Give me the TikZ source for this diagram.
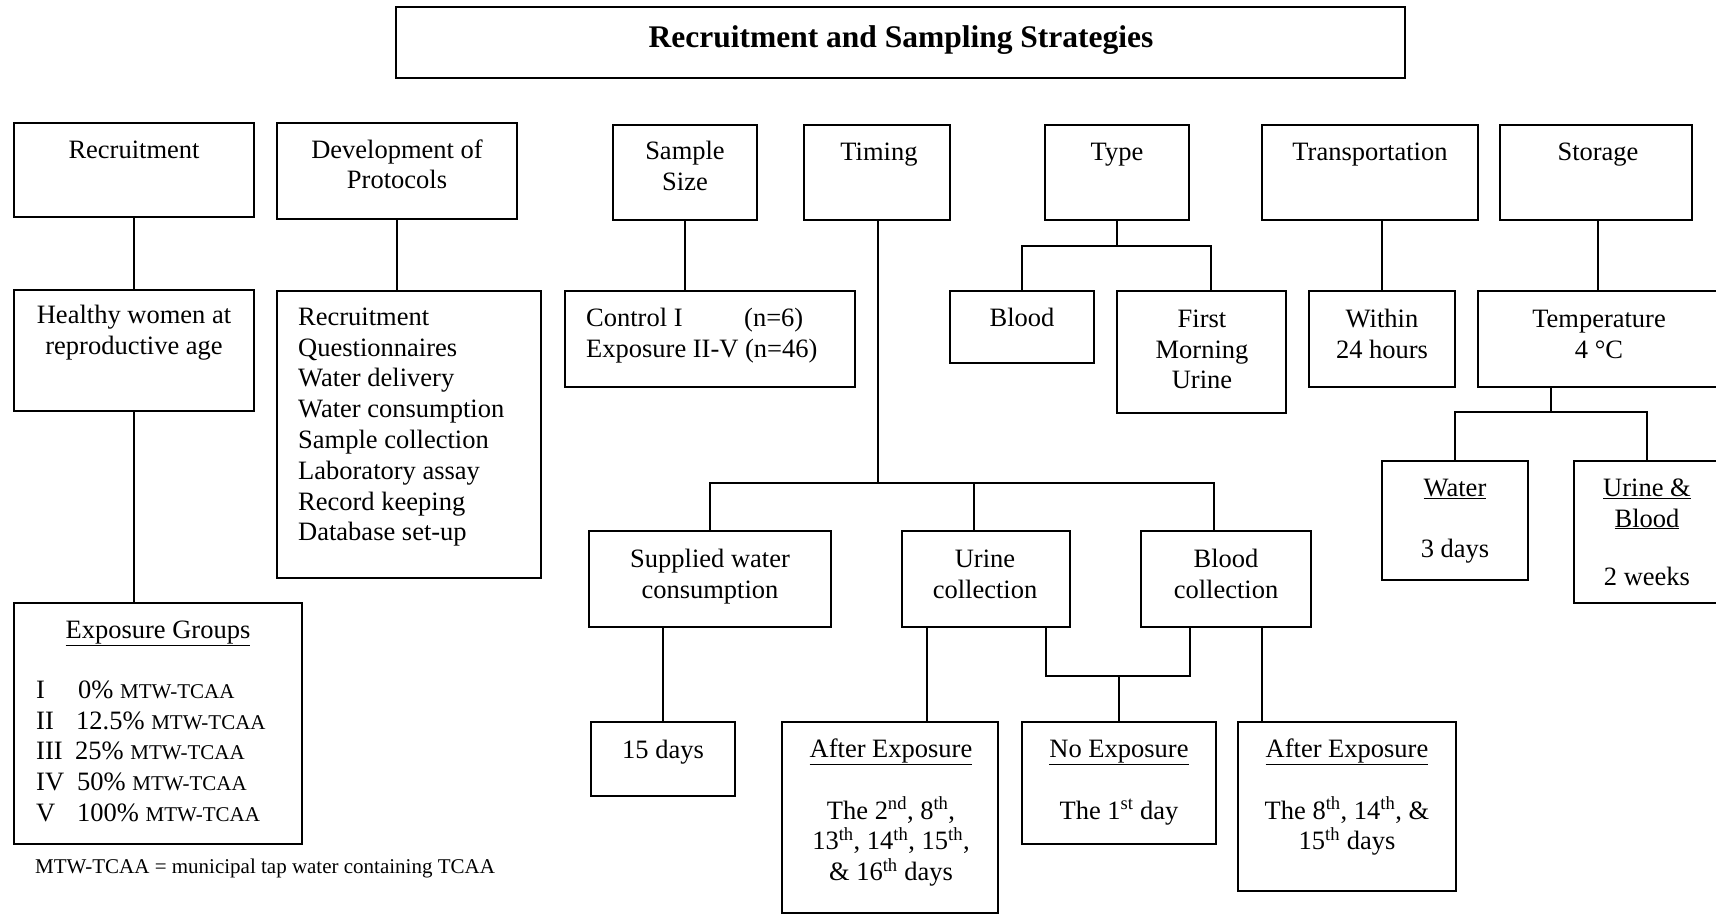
\documentclass[tikz,border=0pt]{standalone}
\usepackage{fontspec}
\setmainfont{Liberation Serif}
\usetikzlibrary{calc}

% font sizes
\newcommand\mainfs{\fontsize{26.5}{30.8}\selectfont}
\newcommand\smallfs{\fontsize{21}{25}\selectfont}
\newcommand\titlefs{\fontsize{31.5}{36}\selectfont\bfseries}
% fixed-height strut so that a label's north anchor sits 24pt above its first baseline
\newcommand\topstrut{\rule{0pt}{24pt}}

\tikzset{
  box/.style={draw, line width=1.9pt, inner sep=0pt, rectangle},
  link/.style={line width=1.9pt},
  ctext/.style={inner sep=0pt, anchor=north, align=center, font=\mainfs},
  ltext/.style={inner sep=0pt, anchor=north west, align=left, font=\mainfs},
}

% \mkbox{name}{left}{top}{right}{bottom}
\newcommand\mkbox[5]{\node[box, minimum width={(#4-#2)*1pt}, minimum height={(#5-#3)*1pt}] (#1) at ({(#2+#4)/2},{(#3+#5)/2}) {};}
% \clbl{name}{centre x}{first baseline}{text}
\newcommand\clbl[4]{\node[ctext] (#1) at (#2,{#3-24}) {\topstrut#4};}
% \llbl{name}{left x}{first baseline}{text}
\newcommand\llbl[4]{\node[ltext] (#1) at (#2,{#3-24}) {\topstrut#4};}

\begin{document}
\begin{tikzpicture}[x=1pt, y=-1pt]
\fill[white] (0,0) rectangle (1716,915);
\useasboundingbox (0,0) rectangle (1716,915);

% ---------- boxes ----------
\mkbox{title}{396}{7}{1405}{78}
\mkbox{rec}{14}{123}{254}{217}
\mkbox{dev}{277}{123}{517}{219}
\mkbox{ss}{613}{125}{757}{220}
\mkbox{tim}{804}{125}{950}{220}
\mkbox{typ}{1045}{125}{1189}{220}
\mkbox{trn}{1262}{125}{1478}{220}
\mkbox{sto}{1500}{125}{1692}{220}

\mkbox{hw}{14}{290}{254}{411}
\mkbox{prot}{277}{291}{541}{578}
\mkbox{ctl}{565}{291}{855}{387}
\mkbox{bld}{950}{291}{1094}{363}
\mkbox{fmu}{1117}{291}{1286}{413}
\mkbox{win}{1309}{291}{1455}{387}
\mkbox{tmp}{1478}{291}{1718}{387}

\mkbox{eg}{14}{603}{302}{844}
\mkbox{sup}{589}{531}{831}{627}
\mkbox{uc}{902}{531}{1070}{627}
\mkbox{bc}{1141}{531}{1311}{627}
\mkbox{wat}{1382}{461}{1528}{580}
\mkbox{ub}{1574}{461}{1720}{603}

\mkbox{dd}{591}{722}{735}{796}
\mkbox{aeu}{782}{722}{998}{913}
\mkbox{ne}{1022}{722}{1216}{844}
\mkbox{aeb}{1238}{722}{1456}{891}

% ---------- texts ----------
\node[inner sep=0pt, anchor=north, font=\titlefs] (titlet) at (901,{47-24}) {\topstrut Recruitment and Sampling Strategies};

\clbl{rect}{134}{158}{Recruitment}
\clbl{devt}{397}{158}{Development of\\Protocols}
\clbl{sst}{685}{159}{Sample\\Size}
\clbl{timt}{879}{160}{Timing}
\clbl{typt}{1117}{160}{Type}
\clbl{trnt}{1370}{160}{Transportation}
\clbl{stot}{1598}{160}{Storage}

\clbl{hwt}{134}{323}{Healthy women at\\reproductive age}
\llbl{prott}{298}{325}{Recruitment\\Questionnaires\\Water delivery\\Water consumption\\Sample collection\\Laboratory assay\\Record keeping\\Database set-up}
\llbl{ctlt}{586}{326}{\makebox[158pt][l]{Control I}(n=6)\\Exposure II-V (n=46)}
\clbl{bldt}{1022}{326}{Blood}
\clbl{fmut}{1202}{327}{First\\Morning\\Urine}
\clbl{wint}{1382}{327}{Within\\24 hours}
\clbl{tmpt}{1599}{327}{Temperature\\4 °C}

\clbl{supt}{710}{567}{Supplied water\\consumption}
\clbl{uct}{985}{567}{Urine\\collection}
\clbl{bct}{1226}{567}{Blood\\collection}

\clbl{watt}{1455}{496}{\underline{Water}\\[30.8pt]3 days}
\clbl{ubt}{1647}{496}{\underline{Urine \&}\\\underline{Blood}\\[28pt]2 weeks}

\clbl{ddt}{663}{758}{15 days}
\clbl{aeut}{891}{757}{\underline{After Exposure}\\[31pt]The 2\textsuperscript{nd}, 8\textsuperscript{th},\\13\textsuperscript{th}, 14\textsuperscript{th}, 15\textsuperscript{th},\\\& 16\textsuperscript{th} days}
\clbl{net}{1119}{757}{\underline{No Exposure}\\[31pt]The 1\textsuperscript{st} day}
\clbl{aebt}{1347}{757}{\underline{After Exposure}\\[31pt]The 8\textsuperscript{th}, 14\textsuperscript{th}, \&\\15\textsuperscript{th} days}

\clbl{egh}{158}{638}{\underline{Exposure Groups}}
\llbl{egr}{36}{698}{\makebox[42pt][l]{I}0\%\ {\smallfs MTW-TCAA}\\
\makebox[40pt][l]{II}12.5\%\ {\smallfs MTW-TCAA}\\
\makebox[39pt][l]{III}25\%\ {\smallfs MTW-TCAA}\\
\makebox[41pt][l]{IV}50\%\ {\smallfs MTW-TCAA}\\
\makebox[41pt][l]{V}100\%\ {\smallfs MTW-TCAA}}

\node[inner sep=0pt, anchor=north west, font=\smallfs] (foot) at (35,{873-24}) {\topstrut MTW-TCAA = municipal tap water containing TCAA};

% ---------- connectors ----------
\draw[link] (rec.south) -- (rec.south |- hw.north);
\draw[link] (hw.south) -- (hw.south |- eg.north);
\draw[link] (dev.south) -- (dev.south |- prot.north);
\draw[link] (ss.south) -- (ss.south |- ctl.north);

% timing tree
\coordinate (tj) at (878,483);
\coordinate (tju) at (974,483);
\coordinate (tjr) at (1214,483);
\draw[link] (tim.south -| tj) -- (tj);
\draw[link] (sup.north) |- (tjr) -- (tjr |- bc.north);
\draw[link] (tju) -- (tju |- uc.north);

% collection branches
\coordinate (uax) at (927,700);
\draw[link] (uc.south -| uax) -- (aeu.north -| uax);
\coordinate (njl) at (1046,676);
\coordinate (njr) at (1190,676);
\draw[link] (uc.south -| njl) -- (njl) -- (njr) -- (bc.south -| njr);
\draw[link] (ne.north) -- (ne.north |- njl);
\coordinate (bax) at (1262,700);
\draw[link] (bc.south -| bax) -- (aeb.north -| bax);
\draw[link] (dd.north) -- (dd.north |- sup.south);

% type tree
\coordinate (tyj) at (1117,246);
\coordinate (tyr) at (1211,246);
\draw[link] (typ.south -| tyj) -- (tyj);
\draw[link] (bld.north) |- (tyr) -- (tyr |- fmu.north);

% transportation and storage
\draw[link] (win.north) -- (win.north |- trn.south);
\draw[link] (tmp.north) -- (tmp.north |- sto.south);
\coordinate (tmj) at (1551,412);
\draw[link] (tmp.south -| tmj) -- (tmj);
\draw[link] (wat.north) |- (ub.north |- tmj) -- (ub.north);
\end{tikzpicture}
\end{document}
